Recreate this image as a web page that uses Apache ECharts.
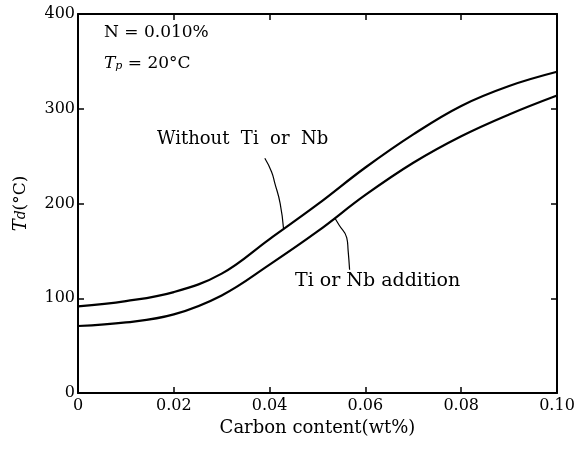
<!DOCTYPE html>
<html>
<head>
<meta charset="utf-8">
<script src="https://cdn.jsdelivr.net/npm/echarts@6/dist/echarts.min.js"></script>
<style>
html,body{margin:0;padding:0;background:#fff;}
#chart{width:583px;height:460px;}
</style>
</head>
<body>
<div id="chart"></div>
<script>
// ---- data ----
const carbon = [0, 0.01, 0.02, 0.03, 0.04, 0.05, 0.06, 0.07, 0.08, 0.09, 0.10];
const withoutTiNb = [91.5, 97, 106.5, 126, 162.5, 199, 238, 273, 303, 324, 339];
const tiNbAddition = [70.7, 74.5, 83, 103, 135.5, 170.5, 209, 243, 271, 294, 314];
const yTicks = [0, 100, 200, 300, 400];
const xTicks = ['0', '0.02', '0.04', '0.06', '0.08', '0.10'];
// leader lines (data coordinates)
const leaderWithoutX = [0.0390, 0.0404, 0.0411, 0.0422, 0.0429];
const leaderWithoutY = [247.7, 233.6, 221.3, 200.2, 173.8];
const leaderAddX = [0.05365, 0.0545, 0.0561, 0.0564, 0.0567];
const leaderAddY = [184.4, 177.3, 164, 150, 130];

const FONT = 'DejaVu Serif';
const pair = (xs, ys) => xs.map((x, i) => [x, ys[i]]);

const chart = echarts.init(document.getElementById('chart'), null, {renderer: 'canvas'});
const axisLine = {show: true, onZero: false, lineStyle: {color: '#000', width: 2}};
const tick = {show: true, inside: true, length: 6, lineStyle: {color: '#000', width: 1.5}};

chart.setOption({
  animation: false,
  backgroundColor: '#fff',
  grid: {left: 78, right: 26, top: 14, bottom: 67, containLabel: false, outerBoundsMode: 'none'},
  xAxis: [{
    type: 'value', min: 0, max: 0.1, interval: 0.02,
    axisLine: axisLine, axisTick: tick, splitLine: {show: false},
    axisLabel: {
      color: '#000', fontFamily: FONT, fontSize: 16, margin: 5,
      formatter: v => xTicks[Math.round(v / 0.02)]
    },
    name: 'Carbon content(wt%)', nameLocation: 'middle', nameGap: 22,
    nameTextStyle: {color: '#000', fontFamily: FONT, fontSize: 18}
  }, {
    type: 'value', position: 'top', min: 0, max: 0.1, interval: 0.02,
    axisLine: axisLine, axisTick: tick, axisLabel: {show: false}, splitLine: {show: false}
  }],
  yAxis: [{
    type: 'value', min: 0, max: 400, interval: 100,
    axisLine: axisLine, axisTick: tick, splitLine: {show: false},
    axisLabel: {
      color: '#000', fontFamily: FONT, fontSize: 16, margin: 3,
      formatter: v => String(yTicks[Math.round(v / 100)])
    },
    name: '{i|T}{s|d}{n|(°C)}', nameLocation: 'middle', nameGap: 48, nameRotate: 90,
    nameTextStyle: {
      color: '#000', fontFamily: FONT, fontSize: 17,
      rich: {
        i: {fontFamily: FONT, fontStyle: 'italic', fontSize: 18, color: '#000'},
        s: {fontFamily: FONT, fontStyle: 'italic', fontSize: 14, color: '#000'},
        n: {fontFamily: FONT, fontSize: 17, color: '#000'}
      }
    }
  }, {
    type: 'value', position: 'right', min: 0, max: 400, interval: 100,
    axisLine: axisLine, axisTick: tick, axisLabel: {show: false}, splitLine: {show: false}
  }],
  series: [{
    name: 'Without Ti or Nb', type: 'line', smooth: 0.4, symbol: 'none',
    data: pair(carbon, withoutTiNb),
    lineStyle: {color: '#000', width: 2.2}
  }, {
    name: 'Ti or Nb addition', type: 'line', smooth: 0.4, symbol: 'none',
    data: pair(carbon, tiNbAddition),
    lineStyle: {color: '#000', width: 2.2}
  }, {
    type: 'line', smooth: 0.5, symbol: 'none', silent: true,
    data: pair(leaderWithoutX, leaderWithoutY),
    lineStyle: {color: '#000', width: 1.2}
  }, {
    type: 'line', smooth: 0.5, symbol: 'none', silent: true,
    data: pair(leaderAddX, leaderAddY),
    lineStyle: {color: '#000', width: 1.2}
  }],
  graphic: [{
    type: 'text', left: 104, top: 24,
    style: {text: 'N = 0.010%', font: '17px "DejaVu Serif"', fill: '#000'}
  }, {
    type: 'text', left: 104, top: 55,
    style: {
      text: '{i|T}{s|p}{n| = 20°C}', fill: '#000',
      rich: {
        i: {font: 'italic 17px "DejaVu Serif"', fill: '#000'},
        s: {font: 'italic 11px "DejaVu Serif"', fill: '#000', padding: [6, 0, 0, 0]},
        n: {font: '17px "DejaVu Serif"', fill: '#000'}
      }
    }
  }, {
    type: 'text', left: 157, top: 130,
    style: {text: 'Without  Ti  or  Nb', font: '18px "DejaVu Serif"', fill: '#000'}
  }, {
    type: 'text', left: 295, top: 272,
    style: {text: 'Ti or Nb addition', font: '19px "DejaVu Serif"', fill: '#000'}
  }]
});
</script>
</body>
</html>
